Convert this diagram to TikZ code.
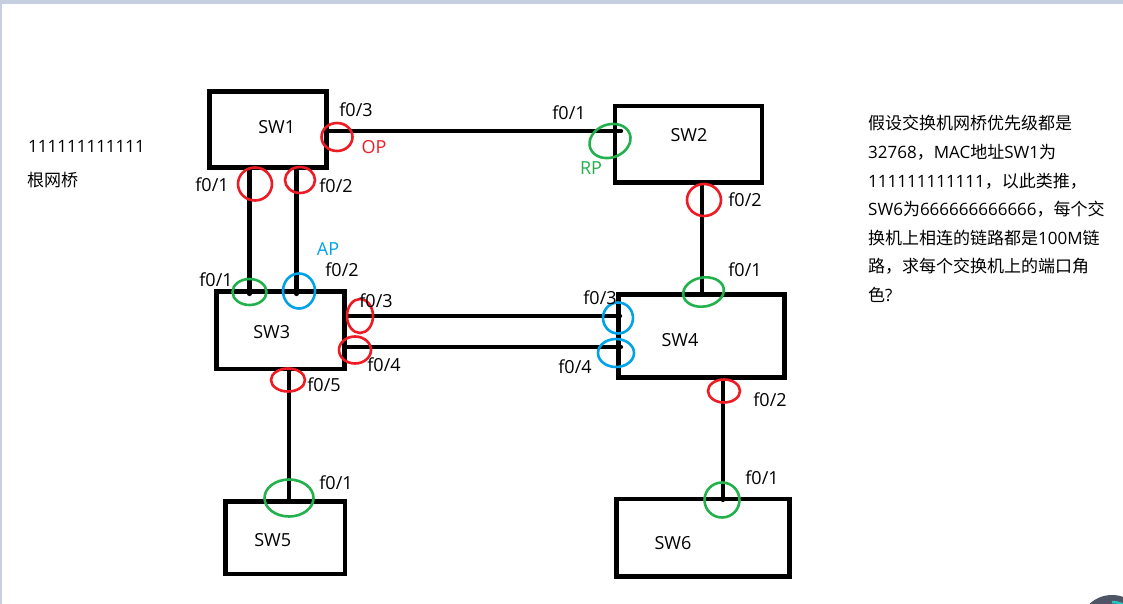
\documentclass[tikz,border=0pt]{standalone}
\usepackage{fontspec}
\setmainfont{Open Sans}
\newfontfamily\cjk{Noto Sans CJK SC}
\usetikzlibrary{shapes.geometric}

\definecolor{paintred}{RGB}{237,28,36}
\definecolor{paintgreen}{RGB}{34,177,76}
\definecolor{paintblue}{RGB}{0,162,232}
\definecolor{barblue}{RGB}{197,207,224}
\definecolor{knob}{RGB}{78,86,102}
\definecolor{knobteal}{RGB}{38,196,196}

\tikzset{
    swbox/.style={draw,line width=4.5pt,inner sep=0pt},
    wire/.style={line width=4.2pt,line cap=round},
    plabel/.style={font=\fontsize{18}{18}\selectfont,text height=13pt,text depth=0pt,inner sep=0pt},
    ring/.style={ellipse,draw,line width=2.6pt,inner sep=0pt},
    dpring/.style={ring,draw=paintred},
    rpring/.style={ring,draw=paintgreen},
    apring/.style={ring,draw=paintblue},
    qline/.style={font=\fontsize{17}{17}\selectfont,anchor=base west,inner sep=0pt}
}

\begin{document}
\begin{tikzpicture}[x=1pt,y=-1pt]
    \useasboundingbox (0,0) rectangle (1123,604);
    \clip (0,0) rectangle (1123,604);
    \fill[white] (0,0) rectangle (1123,604);
    \fill[barblue] (0,0) rectangle (1123,4);
    \fill[barblue] (0,0) rectangle (2,604);

    \node at (268,129.5) [swbox,minimum width=116.6pt,minimum height=75.6pt] (sw1) {};
    \node at (688.3,144.2) [swbox,minimum width=146.9pt,minimum height=76.7pt] (sw2) {};
    \node at (280.7,330.3) [swbox,minimum width=128pt,minimum height=77.3pt] (sw3) {};
    \node at (701.3,335.9) [swbox,minimum width=166pt,minimum height=82.7pt] (sw4) {};
    \node at (285.3,537.8) [swbox,minimum width=119.3pt,minimum height=72.3pt] (sw5) {};
    \node at (703.2,537.8) [swbox,minimum width=173pt,minimum height=77.7pt] (sw6) {};

    \node at (276.7,126.7) [plabel] (sw1 name) {SW1};
    \node at (689,135) [plabel] (sw2 name) {SW2};
    \node at (271.7,331.7) [plabel] (sw3 name) {SW3};
    \node at (680,340) [plabel] (sw4 name) {SW4};
    \node at (272.7,540) [plabel] (sw5 name) {SW5};
    \node at (673,542.7) [plabel] (sw6 name) {SW6};

    \coordinate (sw1 f3) at (326,131);
    \coordinate (sw2 f1) at (621,131);
    \coordinate (sw1 f1) at (249.5,167);
    \coordinate (sw3 f1) at (249.5,294);
    \coordinate (sw1 f2) at (296.5,167);
    \coordinate (sw3 f2) at (296.5,294);
    \coordinate (sw2 f2) at (702.3,182);
    \coordinate (sw4 f1) at (702.3,294);
    \coordinate (sw3 f3) at (345,316);
    \coordinate (sw4 f3) at (620,316);
    \coordinate (sw3 f4) at (345,347);
    \coordinate (sw4 f4) at (621,347);
    \coordinate (sw3 f5) at (289.3,369);
    \coordinate (sw5 f1) at (289.3,501);
    \coordinate (sw4 f2) at (722.7,377);
    \coordinate (sw6 f1) at (722.7,500);

    \draw[wire] (sw1 f3) -- (sw2 f1);
    \draw[wire] (sw1 f1) -- (sw3 f1);
    \draw[wire] (sw1 f2) -- (sw3 f2);
    \draw[wire] (sw2 f2) -- (sw4 f1);
    \draw[wire] (sw3 f3) -- (sw4 f3);
    \draw[wire] (sw3 f4) -- (sw4 f4);
    \draw[wire] (sw3 f5) -- (sw5 f1);
    \draw[wire] (sw4 f2) -- (sw6 f1);

    % port roles
    \node at (337,137) [dpring,minimum width=31pt,minimum height=28pt] (r sw1 f3) {};
    \node at (255,184) [dpring,minimum width=34pt,minimum height=33pt] (r sw1 f1) {};
    \node at (300,180) [dpring,minimum width=30pt,minimum height=26pt] (r sw1 f2) {};
    \node at (704,200) [dpring,minimum width=34pt,minimum height=32pt] (r sw2 f2) {};
    \node at (360,316) [dpring,minimum width=26pt,minimum height=34pt] (r sw3 f3) {};
    \node at (355,350) [dpring,minimum width=32pt,minimum height=27pt] (r sw3 f4) {};
    \node at (288,380) [dpring,minimum width=34pt,minimum height=23pt] (r sw3 f5) {};
    \node at (724,391) [dpring,minimum width=32pt,minimum height=23pt] (r sw4 f2) {};

    \node at (610,141) [rpring,minimum width=42pt,minimum height=33pt,rotate=20] (r sw2 f1) {};
    \node at (249.5,292) [rpring,minimum width=34pt,minimum height=26pt] (r sw3 f1) {};
    \node at (703.5,292) [rpring,minimum width=41pt,minimum height=29pt,rotate=10] (r sw4 f1) {};
    \node at (289,498) [rpring,minimum width=49pt,minimum height=37pt] (r sw5 f1) {};
    \node at (722,500) [rpring,minimum width=35pt,minimum height=35pt] (r sw6 f1) {};

    \node at (299,291) [apring,minimum width=32pt,minimum height=35pt] (r sw3 f2) {};
    \node at (618,318) [apring,minimum width=30pt,minimum height=31pt] (r sw4 f3) {};
    \node at (616,353) [apring,minimum width=36pt,minimum height=28pt] (r sw4 f4) {};

    \node at (356,110) [plabel] (l sw1 f3) {f0/3};
    \node at (374,147) [plabel,text=paintred] (op) {OP};
    \node at (569,113) [plabel] (l sw2 f1) {f0/1};
    \node at (591,168) [plabel,text=paintgreen] (rp) {RP};
    \node at (212,185) [plabel] (l sw1 f1) {f0/1};
    \node at (336,186) [plabel] (l sw1 f2) {f0/2};
    \node at (745,200) [plabel] (l sw2 f2) {f0/2};
    \node at (328,249) [plabel,text=paintblue] (ap) {AP};
    \node at (216,280) [plabel] (l sw3 f1) {f0/1};
    \node at (342,270) [plabel] (l sw3 f2) {f0/2};
    \node at (745,270) [plabel] (l sw4 f1) {f0/1};
    \node at (376,301) [plabel] (l sw3 f3) {f0/3};
    \node at (600,298) [plabel] (l sw4 f3) {f0/3};
    \node at (384,365) [plabel] (l sw3 f4) {f0/4};
    \node at (575,367) [plabel] (l sw4 f4) {f0/4};
    \node at (324,385) [plabel] (l sw3 f5) {f0/5};
    \node at (770,400) [plabel] (l sw4 f2) {f0/2};
    \node at (336,483) [plabel] (l sw5 f1) {f0/1};
    \node at (762,478) [plabel] (l sw6 f1) {f0/1};

    \node at (28,153) [qline] (root mac) {111111111111};
    \node at (27,186.5) [qline] (root) {\cjk 根网桥};

    \node at (868,130) [qline] (q1) {{\cjk 假设交换机网桥优先级都是}};
    \node at (868,158.5) [qline] (q2) {32768{\cjk ，}MAC{\cjk 地址}SW1{\cjk 为}};
    \node at (868,187) [qline] (q3) {111111111111{\cjk ，以此类推，}};
    \node at (868,215.5) [qline] (q4) {SW6{\cjk 为}666666666666{\cjk ，每个交}};
    \node at (868,244) [qline] (q5) {{\cjk 换机上相连的链路都是}100M{\cjk 链}};
    \node at (868,272.5) [qline] (q6) {{\cjk 路，求每个交换机上的端口角}};
    \node at (868,301) [qline] (q7) {{\cjk 色}?};

    \fill[knob] (1112,628) circle (33pt);
    \draw[knobteal,line width=2.5pt] (1112,628) ++(90:26pt) arc (90:40:26pt);
\end{tikzpicture}
\end{document}
